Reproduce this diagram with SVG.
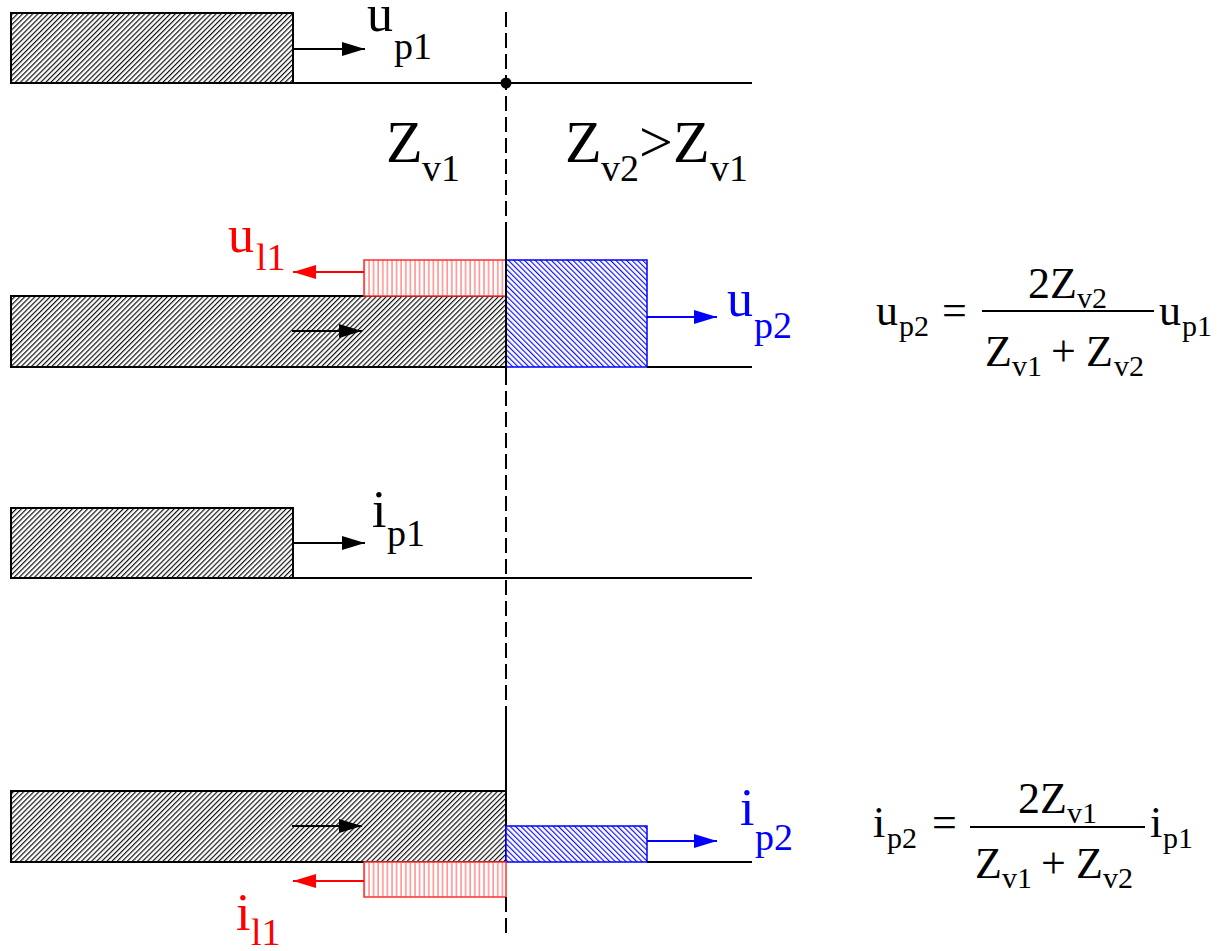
<svg xmlns="http://www.w3.org/2000/svg" width="1225" height="951" viewBox="0 0 1225 951">
<style>
.t{font-family:"Liberation Serif","Times New Roman",serif}
.lbl{font-size:52px}
.sub{font-size:38px}
.zb{font-size:60px}
.zs{font-size:38px}
.fm{font-size:44px}
.fs{font-size:30px}
.blk{fill:#000}
.red{fill:#ff0000}
.blue{fill:#0000ff}
.ln{stroke:#000;stroke-width:2;fill:none}
.dash{stroke:#000;stroke-width:2;fill:none;stroke-dasharray:15 6}
</style>
<defs>
<pattern id="hb" patternUnits="userSpaceOnUse" width="3.6" height="10" patternTransform="rotate(45)">
<rect width="3.6" height="10" fill="#fff"/>
<line x1="0.6" y1="0" x2="0.6" y2="10" stroke="#000" stroke-width="1.1"/>
</pattern>
<pattern id="hbl" patternUnits="userSpaceOnUse" width="3.8" height="10" patternTransform="rotate(-45)">
<rect width="3.8" height="10" fill="#fff"/>
<line x1="0.6" y1="0" x2="0.6" y2="10" stroke="#0000ff" stroke-width="1.1"/>
</pattern>
<pattern id="hr" patternUnits="userSpaceOnUse" width="4.6" height="10">
<rect width="4.6" height="10" fill="#fff"/>
<line x1="1" y1="0" x2="1" y2="10" stroke="#ff7070" stroke-width="1.2"/>
</pattern>
<marker id="ak" markerUnits="userSpaceOnUse" markerWidth="24" markerHeight="16" refX="23" refY="7" orient="auto">
<path d="M0,0 L23,7 L0,14 Z" fill="#000"/>
</marker>
<marker id="ar" markerUnits="userSpaceOnUse" markerWidth="24" markerHeight="16" refX="23" refY="7" orient="auto">
<path d="M0,0 L23,7 L0,14 Z" fill="#ff0000"/>
</marker>
<marker id="ab" markerUnits="userSpaceOnUse" markerWidth="24" markerHeight="16" refX="23" refY="7" orient="auto">
<path d="M0,0 L23,7 L0,14 Z" fill="#0000ff"/>
</marker>
</defs>
<rect width="1225" height="951" fill="#fff"/>

<g id="row1">
<rect x="11" y="13" width="282" height="70" fill="url(#hb)" stroke="#000" stroke-width="2"/>
<line class="ln" x1="293" y1="83" x2="752" y2="83"/>
</g>
<g id="row2">
<rect x="11" y="296" width="495" height="71" fill="url(#hb)" stroke="#000" stroke-width="2"/>
<rect x="364" y="260" width="142" height="36" fill="url(#hr)" stroke="#ff3030" stroke-width="1.5"/>
<rect x="506" y="260" width="141" height="107" fill="url(#hbl)" stroke="#0000ff" stroke-width="1.5"/>
<line class="ln" x1="647" y1="367" x2="752" y2="367"/>
</g>
<g id="row3">
<rect x="11" y="508" width="282" height="70" fill="url(#hb)" stroke="#000" stroke-width="2"/>
<line class="ln" x1="293" y1="578" x2="752" y2="578"/>
</g>
<g id="row4">
<rect x="11" y="791" width="495" height="71" fill="url(#hb)" stroke="#000" stroke-width="2"/>
<rect x="506" y="826" width="141" height="36" fill="url(#hbl)" stroke="#0000ff" stroke-width="1.5"/>
<rect x="364" y="862" width="142" height="35" fill="url(#hr)" stroke="#ff3030" stroke-width="1.5"/>
<line class="ln" x1="647" y1="862" x2="752" y2="862"/>
</g>

<g id="connectors">
<line class="dash" x1="506" y1="12" x2="506" y2="222"/>
<line class="ln" x1="506" y1="222" x2="506" y2="370"/>
<line class="dash" x1="506" y1="370" x2="506" y2="717"/>
<line class="ln" x1="506" y1="717" x2="506" y2="791"/>
<line class="dash" x1="506" y1="897" x2="506" y2="935"/>
<circle cx="506" cy="83" r="5.5" fill="#000"/>
<line stroke="#000" stroke-width="2" x1="293" y1="49" x2="365" y2="49" marker-end="url(#ak)"/>
<line stroke="#000" stroke-width="2" x1="292" y1="331" x2="362" y2="331" marker-end="url(#ak)"/>
<line stroke="#ff0000" stroke-width="2" x1="364" y1="272" x2="293" y2="272" marker-end="url(#ar)"/>
<line stroke="#0000ff" stroke-width="2" x1="647" y1="317" x2="717" y2="317" marker-end="url(#ab)"/>
<line stroke="#000" stroke-width="2" x1="293" y1="543" x2="365" y2="543" marker-end="url(#ak)"/>
<line stroke="#000" stroke-width="2" x1="292" y1="826" x2="362" y2="826" marker-end="url(#ak)"/>
<line stroke="#0000ff" stroke-width="2" x1="647" y1="841" x2="717" y2="841" marker-end="url(#ab)"/>
<line stroke="#ff0000" stroke-width="2" x1="364" y1="881" x2="293" y2="881" marker-end="url(#ar)"/>
</g>

<g id="labels" class="t">
<text class="lbl blk" x="367" y="31">u</text><text class="sub blk" x="394" y="59">p1</text>
<text class="zb blk" x="386" y="162">Z</text><text class="zs blk" x="422" y="181">v1</text>
<text class="zb blk" x="565" y="162">Z</text><text class="zs blk" x="601" y="181">v2</text>
<text class="zb blk" x="639" y="162">&gt;</text>
<text class="zb blk" x="673" y="162">Z</text><text class="zs blk" x="710" y="181">v1</text>
<text class="lbl red" x="228" y="252">u</text><text class="sub red" x="256" y="270">l1</text>
<text class="lbl blue" x="727" y="316">u</text><text class="sub blue" x="754" y="338">p2</text>
<text class="lbl blk" x="372" y="527">i</text><text class="sub blk" x="387" y="546">p1</text>
<text class="lbl blue" x="740" y="825">i</text><text class="sub blue" x="755" y="850">p2</text>
<text class="lbl red" x="236" y="930">i</text><text class="sub red" x="251" y="945">l1</text>
</g>

<g id="formula1" class="t">
<text class="fm blk" x="876" y="325">u</text><text class="fs blk" x="899" y="336">p2</text>
<text class="fm blk" x="942" y="325">=</text>
<line stroke="#000" stroke-width="2" x1="982" y1="311" x2="1154" y2="311"/>
<text class="fm blk" x="1028" y="298">2Z</text><text class="fs blk" x="1077" y="308">v2</text>
<text class="fm blk" x="985" y="366">Z</text><text class="fs blk" x="1012" y="376">v1</text>
<text class="fm blk" x="1051" y="366">+</text>
<text class="fm blk" x="1086" y="366">Z</text><text class="fs blk" x="1114" y="376">v2</text>
<text class="fm blk" x="1159" y="325">u</text><text class="fs blk" x="1182" y="336">p1</text>
</g>

<g id="formula2" class="t">
<text class="fm blk" x="873" y="837">i</text><text class="fs blk" x="887" y="848">p2</text>
<text class="fm blk" x="932" y="837">=</text>
<line stroke="#000" stroke-width="2" x1="970" y1="827" x2="1145" y2="827"/>
<text class="fm blk" x="1018" y="813">2Z</text><text class="fs blk" x="1067" y="823">v1</text>
<text class="fm blk" x="975" y="878">Z</text><text class="fs blk" x="1002" y="888">v1</text>
<text class="fm blk" x="1041" y="878">+</text>
<text class="fm blk" x="1076" y="878">Z</text><text class="fs blk" x="1103" y="888">v2</text>
<text class="fm blk" x="1150" y="837">i</text><text class="fs blk" x="1163" y="848">p1</text>
</g>
</svg>
